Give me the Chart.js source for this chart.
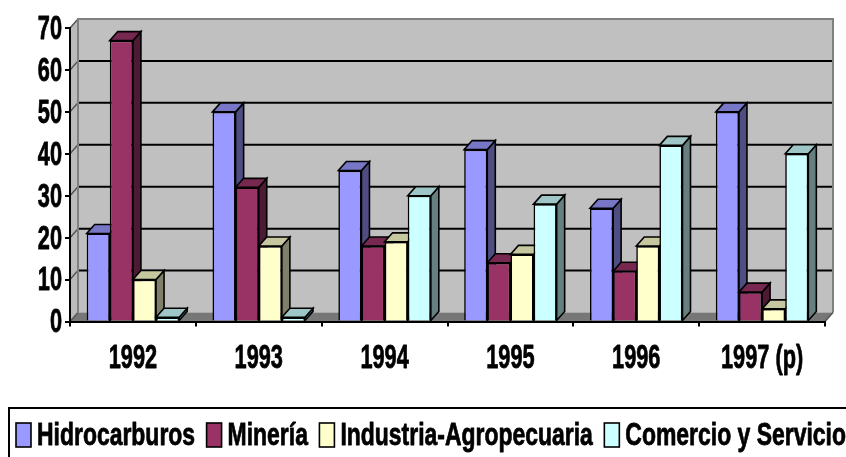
<!DOCTYPE html>
<html><head><meta charset="utf-8">
<style>html,body{margin:0;padding:0;background:#fff;overflow:hidden}canvas{display:block}</style>
<script src="https://cdn.jsdelivr.net/npm/chart.js@4"></script>
</head><body><canvas id="c" width="846" height="457"></canvas>
<script>
const categories = ['1992','1993','1994','1995','1996','1997 (p)'];
const hidrocarburos = [21,50,36,41,27,50];
const mineria = [67,32,18,14,12,7];
const industria = [10,18,19,16,18,3];
const comercio = [1,1,30,28,42,40];
const seriesNames = ['Hidrocarburos','Minería','Industria-Agropecuaria','Comercio y Servicio'];
const frontColors = ['#9999FF','#993366','#FFFFCC','#CCFFFF'];
const topColors = ['#7777C6','#772850','#C6C69F','#9FC6C6'];
const sideColors = ['#4E4E83','#4C1A33','#80806A','#668080'];
const yTicks = [0,10,20,30,40,50,60,70];
const DX = 8, DY = 9, AXIS_SQUEEZE = 0.64, LEGEND_SQUEEZE = 0.717;
const FONT = '"Liberation Sans", Arial, sans-serif';

const squeezeText = {
  id:'squeezeText',
  beforeInit(chart){
    const ctx = chart.ctx, ft = ctx.fillText.bind(ctx), st = ctx.strokeText.bind(ctx), mt = ctx.measureText.bind(ctx);
    const sq = ()=>ctx.font.indexOf('32px')>=0?LEGEND_SQUEEZE:AXIS_SQUEEZE;
    ctx.fillText = (t,x,y)=>{
      ctx.save();ctx.translate(x,y+1.5);ctx.scale(sq(),1);
      ft(t,0,0);
      ctx.strokeStyle=ctx.fillStyle;ctx.lineWidth=0.8;ctx.lineJoin='round';st(t,0,0);
      ctx.restore();
    };
    ctx.measureText = t=>{const r=mt(t);return {width:r.width*sq(),actualBoundingBoxAscent:r.actualBoundingBoxAscent,actualBoundingBoxDescent:r.actualBoundingBoxDescent};};
  }
};
const poly = (ctx,pts,fill,stroke,lw)=>{
  ctx.beginPath();pts.forEach((p,i)=>i?ctx.lineTo(p[0],p[1]):ctx.moveTo(p[0],p[1]));ctx.closePath();
  if(fill){ctx.fillStyle=fill;ctx.fill();}
  if(stroke){ctx.strokeStyle=stroke;ctx.lineWidth=lw;ctx.stroke();}
};
const box3d = {
  id:'box3d',
  beforeDatasetsDraw(chart){
    const ctx=chart.ctx,a=chart.chartArea,y=chart.scales.y;
    ctx.save();
    poly(ctx,[[a.left+DX,a.top-DY],[a.right+DX,a.top-DY],[a.right+DX,a.bottom-DY],[a.left+DX,a.bottom-DY]],'#C0C0C0');
    poly(ctx,[[a.left,a.top],[a.left+DX,a.top-DY],[a.left+DX,a.bottom-DY],[a.left,a.bottom]],'#BBBBBB');
    poly(ctx,[[a.left,a.bottom],[a.left+DX,a.bottom-DY],[a.right+DX,a.bottom-DY],[a.right,a.bottom]],'#777777');
    y.ticks.forEach(t=>{
      if(t.value===0||t.value===y.max) return;
      const py=y.getPixelForValue(t.value);
      ctx.strokeStyle='#000';ctx.lineWidth=2;ctx.beginPath();
      ctx.moveTo(a.left+DX,py-DY);ctx.lineTo(a.right+DX,py-DY);ctx.stroke();
    });
    y.ticks.forEach(t=>{
      const py=y.getPixelForValue(t.value);
      ctx.strokeStyle='#555';ctx.lineWidth=1.5;ctx.beginPath();
      ctx.moveTo(a.left,py);ctx.lineTo(a.left+DX,py-DY);ctx.stroke();
    });
    ctx.strokeStyle='#808080';ctx.lineWidth=2;ctx.beginPath();
    ctx.moveTo(a.left+DX,a.bottom-DY);ctx.lineTo(a.left+DX,a.top-DY);ctx.lineTo(a.right+DX,a.top-DY);ctx.lineTo(a.right+DX,a.bottom-DY);
    ctx.stroke();
    ctx.strokeStyle='#555';ctx.lineWidth=1.5;ctx.beginPath();
    ctx.moveTo(a.right,a.bottom);ctx.lineTo(a.right+DX,a.bottom-DY);ctx.stroke();
    chart.data.datasets.forEach((ds,i)=>{
      const meta=chart.getDatasetMeta(i);
      meta.data.forEach(b=>{
        const l=b.x-b.width/2,r=b.x+b.width/2,t=b.y,bt=b.base;
        poly(ctx,[[r,t],[r+DX,t-DY],[r+DX,bt-DY],[r,bt]],sideColors[i],'#000',1.6);
        poly(ctx,[[l,t],[l+DX,t-DY],[r+DX,t-DY],[r,t]],topColors[i],'#000',1.6);
      });
      meta.controller.draw();
    });
    ctx.restore();
  },
  beforeDatasetDraw(){return false;}
};
const boxLegend = {
  id:'boxLegend',
  afterDraw(chart){
    const ctx=chart.ctx;
    ctx.save();
    ctx.strokeStyle='#000';ctx.lineWidth=2;
    ctx.strokeRect(9,408,900,100);
    ctx.font='bold 32px '+FONT;ctx.textBaseline='middle';ctx.textAlign='left';
    let x=16;
    seriesNames.forEach((n,i)=>{
      ctx.fillStyle=frontColors[i];ctx.fillRect(x,423,15,24);
      ctx.strokeStyle='#000';ctx.lineWidth=1.6;ctx.strokeRect(x,423,15,24);
      ctx.fillStyle='#000';ctx.fillText(n,x+21,435);
      x+=21+ctx.measureText(n).width+11.5;
    });
    ctx.restore();
  }
};
new Chart(document.getElementById('c'),{
  type:'bar',
  data:{labels:categories,datasets:[hidrocarburos,mineria,industria,comercio].map((d,i)=>({
    label:seriesNames[i],data:d,backgroundColor:frontColors[i],borderColor:'#000',borderWidth:1.6,
    categoryPercentage:0.735,barPercentage:1
  }))},
  plugins:[squeezeText,box3d,boxLegend],
  options:{
    responsive:false,animation:false,
    layout:{padding:{top:28,right:21,left:0,bottom:0}},
    plugins:{legend:{display:false},tooltip:{enabled:false}},
    scales:{
      x:{
        grid:{drawOnChartArea:false,color:'#000',lineWidth:2,tickLength:5,z:1},
        border:{color:'#000',width:2,z:1},
        ticks:{color:'#000',font:{family:FONT,size:34,weight:'bold'},padding:10,maxRotation:0,autoSkip:false},
        afterFit(s){s.height=135.5;}
      },
      y:{
        min:0,max:70,
        afterBuildTicks(s){s.ticks=yTicks.map(v=>({value:v}));},
        grid:{drawOnChartArea:false,color:'#000',lineWidth:2,tickLength:5,z:1},
        border:{color:'#000',width:2,z:1},
        ticks:{color:'#000',font:{family:FONT,size:34,weight:'bold'},padding:3,autoSkip:false},
        afterFit(s){s.width=70;}
      }
    }
  }
});
</script></body></html>
